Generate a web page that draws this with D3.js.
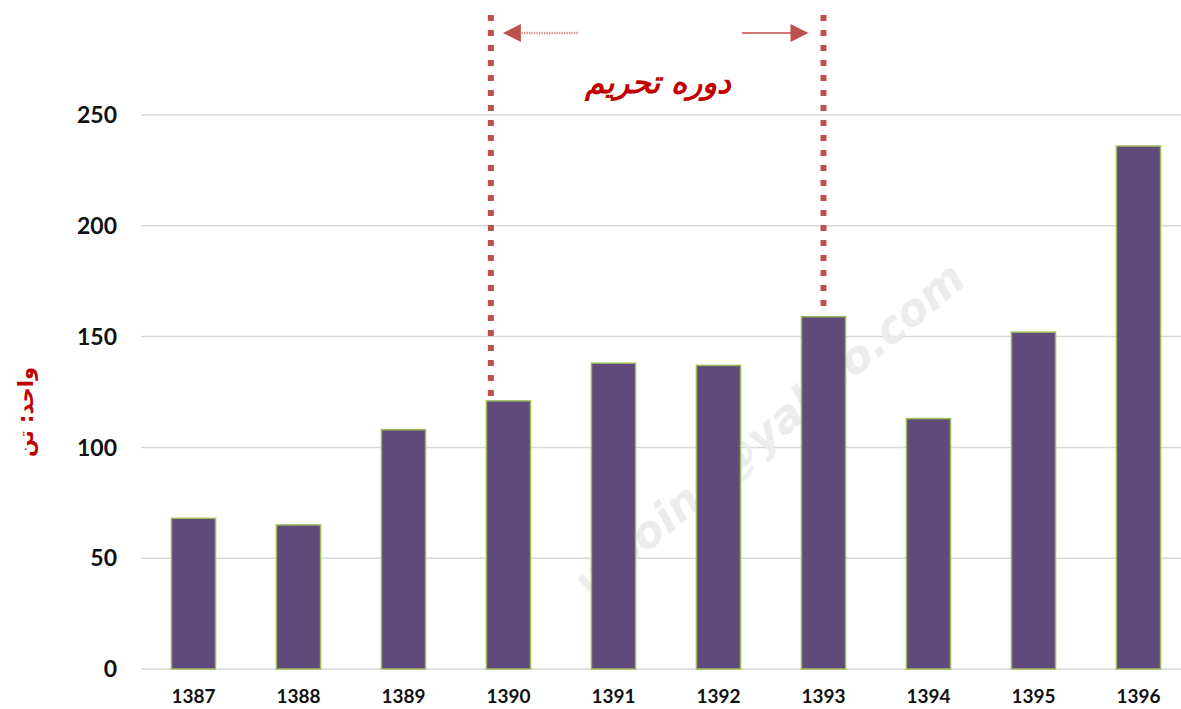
<!DOCTYPE html>
<html lang="fa">
  <head>
    <meta charset="UTF-8" />
    <title>دوره تحریم</title>
    <script src="https://d3js.org/d3.v7.min.js"></script>
    <style>
      body { margin: 0; background: #ffffff; }
      .tick-label { font-family: "Lato", sans-serif; font-weight: 700; fill: #111; }
    </style>
  </head>
  <body>
    <div id="viz"></div>
    <script>
      // data (unit: tonnes)
      const years = ["1387", "1388", "1389", "1390", "1391", "1392", "1393", "1394", "1395", "1396"];
      const values = [68, 65, 108, 121, 138, 137, 159, 113, 152, 236];
      const yTicks = [0, 50, 100, 150, 200, 250];
      // start / end of the sanction period, as a fraction across the year's band
      const sanctionYears = ["1390", "1393"];
      const sanctionOffsets = [0.1, 0.5];

      const width = 1181, height = 709;
      const margin = { top: 115, right: 1181 - 1191, bottom: 709 - 669, left: 141 };

      const svg = d3.select("#viz").append("svg")
        .attr("width", width)
        .attr("height", height);

      const x = d3.scaleBand()
        .domain(years)
        .range([margin.left, width - margin.right])
        .paddingInner(0.58)
        .paddingOuter(0.29);

      const y = d3.scaleLinear()
        .domain([0, 250])
        .range([height - margin.bottom, margin.top]);

      // gridlines
      svg.append("g").selectAll("line")
        .data(yTicks)
        .join("line")
        .attr("x1", margin.left)
        .attr("x2", width)
        .attr("y1", d => y(d))
        .attr("y2", d => y(d))
        .attr("stroke", "#d9d9d9")
        .attr("stroke-width", 1.5);

      // faint watermark, behind the bars
      svg.append("text")
        .attr("transform", "translate(590,600) rotate(-40)")
        .attr("font-family", "DejaVu Sans, sans-serif")
        .attr("font-weight", 700)
        .attr("font-style", "italic")
        .attr("font-size", 44)
        .attr("fill", "#ececec")
        .text("wpoind@yahoo.com");

      // y tick labels
      svg.append("g").selectAll("text")
        .data(yTicks)
        .join("text")
        .attr("class", "tick-label")
        .attr("x", 117)
        .attr("y", d => y(d))
        .attr("dy", "0.36em")
        .attr("text-anchor", "end")
        .attr("font-size", 23)
        .text(d => d);

      // x tick labels
      svg.append("g").selectAll("text")
        .data(years)
        .join("text")
        .attr("class", "tick-label")
        .attr("x", d => x(d) + x.bandwidth() / 2)
        .attr("y", 696)
        .attr("dy", "0.36em")
        .attr("text-anchor", "middle")
        .attr("font-size", 19)
        .text(d => d);

      // bars
      svg.append("g").selectAll("rect")
        .data(years.map((yr, i) => ({ yr, v: values[i] })))
        .join("rect")
        .attr("x", d => x(d.yr))
        .attr("y", d => y(d.v))
        .attr("width", x.bandwidth())
        .attr("height", d => y(0) - y(d.v))
        .attr("fill", "#604a7b")
        .attr("stroke", "#9bbb59")
        .attr("stroke-width", 1.5);

      // sanction period markers
      const red = "#c0504d";
      const lineX = sanctionYears.map((yr, i) => x(yr) + x.bandwidth() * sanctionOffsets[i]);
      svg.append("g").selectAll("line")
        .data(sanctionYears)
        .join("line")
        .attr("x1", (d, i) => lineX[i])
        .attr("x2", (d, i) => lineX[i])
        .attr("y1", 15)
        .attr("y2", d => y(values[years.indexOf(d)]) - 3)
        .attr("stroke", red)
        .attr("stroke-width", 6)
        .attr("stroke-dasharray", "6,9");

      // arrows pointing outwards
      const arrowY = 33;
      const leftTip = lineX[0] + 12, rightTip = lineX[1] - 15;
      svg.append("line")
        .attr("x1", leftTip + 16).attr("x2", 578)
        .attr("y1", arrowY).attr("y2", arrowY)
        .attr("stroke", "#d99694").attr("stroke-width", 2.5)
        .attr("stroke-dasharray", "1.5,1");
      svg.append("path")
        .attr("d", `M${leftTip},${arrowY} l18,-9 l0,18 z`)
        .attr("fill", red);
      svg.append("line")
        .attr("x1", 742).attr("x2", rightTip - 16)
        .attr("y1", arrowY).attr("y2", arrowY)
        .attr("stroke", "#d07673").attr("stroke-width", 2);
      svg.append("path")
        .attr("d", `M${rightTip},${arrowY} l-18,-9 l0,18 z`)
        .attr("fill", red);

      // period title
      svg.append("text")
        .attr("x", 658)
        .attr("y", 93)
        .attr("text-anchor", "middle")
        .attr("font-family", "DejaVu Sans, sans-serif")
        .attr("font-weight", 700)
        .attr("font-style", "italic")
        .attr("font-size", 31)
        .attr("fill", "#c00000")
        .text("دوره تحریم");

      // unit label
      svg.append("text")
        .attr("transform", "translate(33,412) rotate(-90)")
        .attr("text-anchor", "middle")
        .attr("font-family", "DejaVu Sans, sans-serif")
        .attr("font-weight", 700)
        .attr("font-size", 21)
        .attr("fill", "#c00000")
        .text("واحد: تن");
    </script>
  </body>
</html>
